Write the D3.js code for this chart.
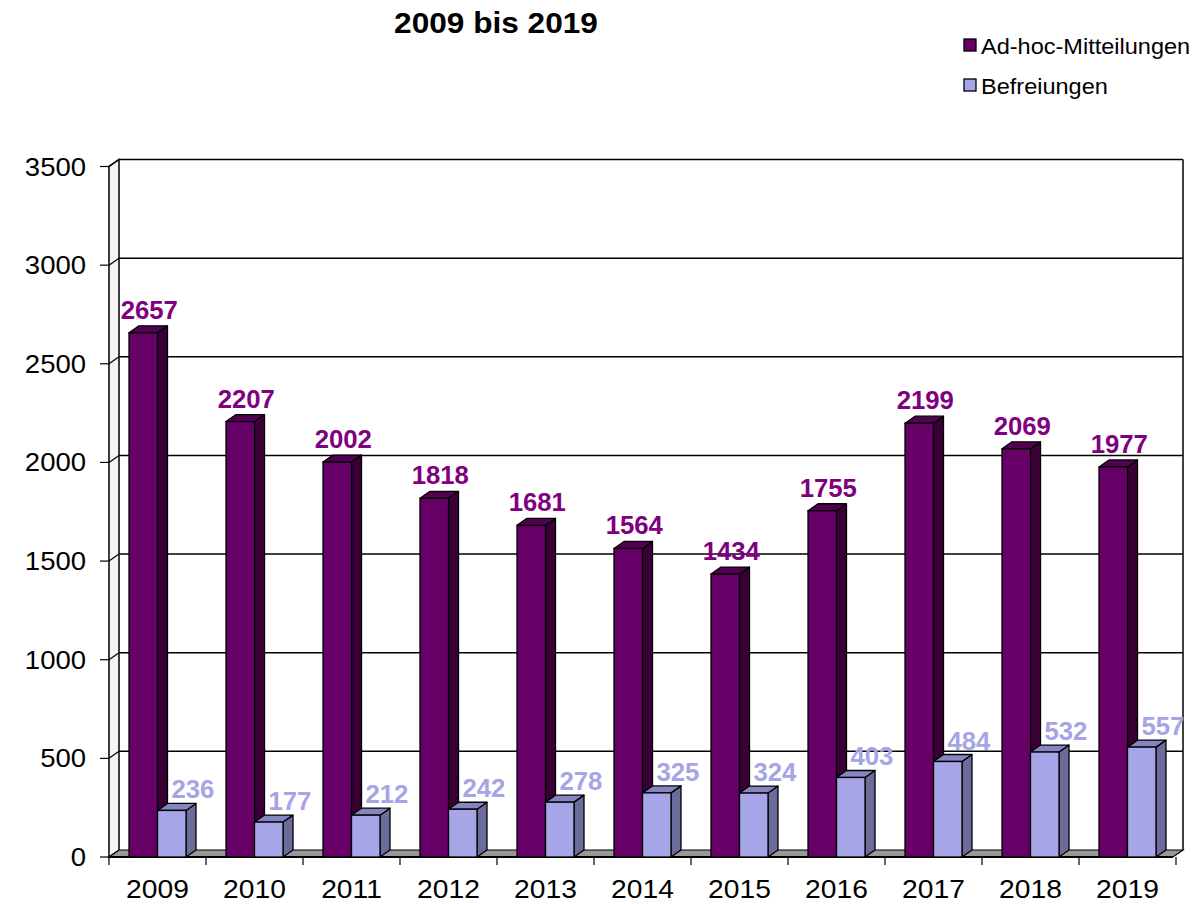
<!DOCTYPE html>
<html>
<head>
<meta charset="utf-8">
<script src="https://cdn.jsdelivr.net/npm/d3@7"></script>
<style>
  body { margin: 0; background: #fff; }
  text { font-family: "Liberation Sans", Arial, sans-serif; }
</style>
</head>
<body>
<svg width="1200" height="904"></svg>
<script>
const years = ['2009', '2010', '2011', '2012', '2013', '2014', '2015', '2016', '2017', '2018', '2019'];
const adhoc = [2657, 2207, 2002, 1818, 1681, 1564, 1434, 1755, 2199, 2069, 1977];
const befreiungen = [236, 177, 212, 242, 278, 325, 324, 403, 484, 532, 557];
const yTicks = [0, 500, 1000, 1500, 2000, 2500, 3000, 3500];
const seriesNames = ['Ad-hoc-Mitteilungen', 'Befreiungen'];

const svg = d3.select('svg');
const dx = 10, dy = -7;   // 3d depth

const x = d3.scaleBand().domain(years).range([109, 1176]);
const y = d3.scaleLinear().domain([0, 3500]).range([857, 166.5]);

const series = [
  { name: seriesNames[0], values: adhoc, front: '#660066', side: '#3a0036', top: '#520052', label: '#800080', offset: 20 },
  { name: seriesNames[1], values: befreiungen, front: '#a5a5e8', side: '#6b6b9c', top: '#8585c2', label: '#a5a5e6', offset: 48.5 }
];
const barW = 28.5;

// text slightly stretched sideways, like the original export
function label(g, px, py, str, size, opts = {}) {
  const t = g.append('text')
             .attr('transform', `translate(${px},${py}) scale(${opts.sx || 1.1},1)`)
             .attr('font-size', size)
             .attr('text-anchor', opts.anchor || 'start')
             .text(str);
  if (opts.bold) t.attr('font-weight', 'bold');
  if (opts.fill) t.attr('fill', opts.fill);
  if (opts.dy) t.attr('dy', opts.dy);
  return t;
}

// title
label(svg, 496, 33, '2009 bis 2019', 29, { anchor: 'middle', bold: true, sx: 1.09 });

// legend
const legend = svg.append('g');
series.forEach((s, i) => {
  legend.append('rect')
        .attr('x', 964).attr('y', 39 + i * 40)
        .attr('width', 12).attr('height', 12)
        .attr('fill', s.front).attr('stroke', '#000').attr('stroke-width', 1.3);
  label(legend, 981, 54 + i * 40, s.name, 22, { sx: 1.07 });
});

const x0 = x.range()[0], x1 = x.range()[1] - 3;
const grid = svg.append('g');

// left wall
grid.append('path')
    .attr('d', `M${x0},${y(0)} L${x0},${y(3500)} L${x0 + dx},${y(3500) + dy} L${x0 + dx},${y(0) + dy} Z`)
    .attr('fill', '#f4f4f4').attr('stroke', '#000').attr('stroke-width', 1.5);

// back wall gridlines
yTicks.filter(t => t > 0).forEach(t => {
  grid.append('line')
      .attr('x1', x0 + dx).attr('x2', x1 + dx)
      .attr('y1', y(t) + dy).attr('y2', y(t) + dy)
      .attr('stroke', '#000').attr('stroke-width', 1.5);
  grid.append('line')
      .attr('x1', x0).attr('x2', x0 + dx)
      .attr('y1', y(t)).attr('y2', y(t) + dy)
      .attr('stroke', '#000').attr('stroke-width', 1.2);
});

// right wall edge
grid.append('line')
    .attr('x1', x1 + dx).attr('x2', x1 + dx)
    .attr('y1', y(3500) + dy).attr('y2', y(0) + dy)
    .attr('stroke', '#000').attr('stroke-width', 1.5);

// floor
grid.append('path')
    .attr('d', `M${x0},${y(0)} L${x0 + dx},${y(0) + dy} L${x1 + dx},${y(0) + dy} L${x1},${y(0)} Z`)
    .attr('fill', '#999').attr('stroke', '#000').attr('stroke-width', 1.2);

// y axis
const yAxis = svg.append('g');
yTicks.forEach(t => {
  yAxis.append('line')
       .attr('x1', x0 - 9).attr('x2', x0)
       .attr('y1', y(t)).attr('y2', y(t))
       .attr('stroke', '#000').attr('stroke-width', 1.2);
  label(yAxis, 86, y(t), t, 25, { anchor: 'end', dy: '0.36em' });
});

// x axis
const xAxis = svg.append('g');
xAxis.append('line')
     .attr('x1', x0).attr('x2', x1)
     .attr('y1', y(0)).attr('y2', y(0))
     .attr('stroke', '#000').attr('stroke-width', 2);
d3.range(years.length + 1).forEach(i => {
  const px = x0 + i * x.bandwidth();
  xAxis.append('line')
       .attr('x1', px).attr('x2', px)
       .attr('y1', y(0)).attr('y2', y(0) + 8)
       .attr('stroke', '#000').attr('stroke-width', 1.2);
});
years.forEach(yr => {
  label(xAxis, x(yr) + x.bandwidth() / 2, 898, yr, 25, { anchor: 'middle', sx: 1.13 });
});

// bars
function bar3d(g, bx, top, s) {
  const base = y(0);
  g.append('path')
   .attr('d', `M${bx + barW},${top} L${bx + barW + dx},${top + dy} L${bx + barW + dx},${base + dy} L${bx + barW},${base} Z`)
   .attr('fill', s.side).attr('stroke', '#000').attr('stroke-width', 1.3).attr('stroke-linejoin', 'round');
  g.append('path')
   .attr('d', `M${bx},${top} L${bx + dx},${top + dy} L${bx + barW + dx},${top + dy} L${bx + barW},${top} Z`)
   .attr('fill', s.top).attr('stroke', '#000').attr('stroke-width', 1.3).attr('stroke-linejoin', 'round');
  g.append('rect')
   .attr('x', bx).attr('y', top)
   .attr('width', barW).attr('height', base - top)
   .attr('fill', s.front).attr('stroke', '#000').attr('stroke-width', 1.3);
}

const bars = svg.append('g');
years.forEach((yr, i) => {
  series.forEach(s => {
    bar3d(bars, x(yr) + s.offset, y(s.values[i]), s);
  });
});

// value labels
const labels = svg.append('g');
years.forEach((yr, i) => {
  const a = series[0], b = series[1];
  label(labels, x(yr) + a.offset + barW / 2 + 6, y(a.values[i]) - 14, a.values[i], 25,
        { anchor: 'middle', bold: true, fill: a.label, sx: 1.03 });
  label(labels, x(yr) + b.offset + 14, y(b.values[i]) - 12, b.values[i], 25,
        { bold: true, fill: b.label, sx: 1.03 });
});
</script>
</body>
</html>
